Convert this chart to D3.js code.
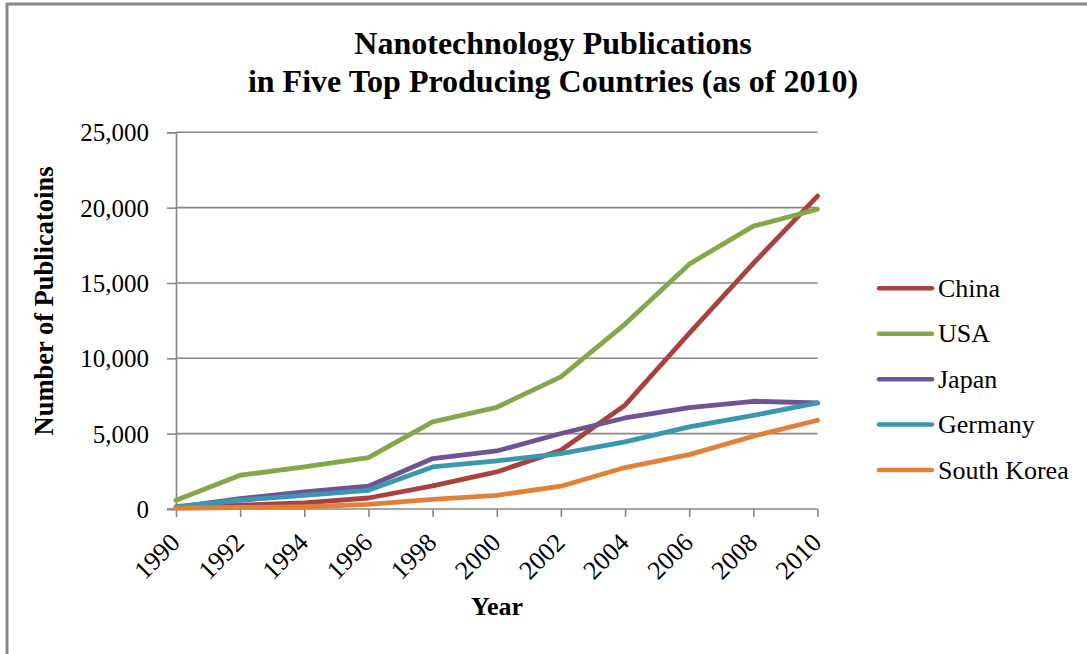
<!DOCTYPE html>
<html>
<head>
<meta charset="utf-8">
<script src="https://cdn.jsdelivr.net/npm/d3@7"></script>
<style>
  html, body { margin: 0; padding: 0; background: #fff; }
  svg { display: block; }
  text { font-family: "Liberation Serif", "Times New Roman", serif; fill: #000; }
</style>
</head>
<body>
<svg id="chart" width="1087" height="654"></svg>
<script>
// Publications per year, every second year from 1990 to 2010
const years = [1990, 1992, 1994, 1996, 1998, 2000, 2002, 2004, 2006, 2008, 2010];
const china   = [100, 250, 400, 730, 1530, 2460, 3900, 6890, 11650, 16300, 20770];
const usa     = [580, 2240, 2790, 3410, 5780, 6750, 8770, 12270, 16250, 18770, 19890];
const japan   = [100, 690, 1130, 1510, 3350, 3850, 5010, 6040, 6730, 7150, 7040];
const germany = [150, 580, 910, 1240, 2790, 3190, 3680, 4450, 5450, 6210, 7040];
const korea   = [50, 100, 150, 310, 640, 910, 1510, 2750, 3610, 4830, 5890];

const seriesNames = ["China", "USA", "Japan", "Germany", "South Korea"];
const seriesValues = [china, usa, japan, germany, korea];
const seriesColors = ["#A8423F", "#86A64A", "#6E5493", "#3B97B0", "#E0813A"];

const yTicks = [0, 5000, 10000, 15000, 20000, 25000];

const titleLines = ["Nanotechnology Publications", "in Five Top Producing Countries (as of 2010)"];
const xTitle = "Year";
const yTitle = "Number of Publicatoins";

const svg = d3.select("#chart");

// outer frame (top and left edges)
svg.append("line").attr("x1", 6).attr("x2", 1087).attr("y1", 4).attr("y2", 4)
  .attr("stroke", "#898989").attr("stroke-width", 3);
svg.append("line").attr("x1", 7).attr("x2", 7).attr("y1", 3).attr("y2", 654)
  .attr("stroke", "#898989").attr("stroke-width", 3);

const x = d3.scaleLinear().domain([1990, 2010]).range([176, 817.5]);
const y = d3.scaleLinear().domain([0, 25000]).range([509, 132.3]);

// horizontal gridlines
svg.append("g")
  .selectAll("line")
  .data(yTicks.filter(d => d > 0))
  .join("line")
  .attr("x1", x(1990)).attr("x2", x(2010))
  .attr("y1", d => y(d)).attr("y2", d => y(d))
  .attr("stroke", "#878787").attr("stroke-width", 1.6);

// y axis
const yAxis = svg.append("g")
  .attr("transform", `translate(${x(1990)},0)`)
  .call(d3.axisLeft(y).tickValues(yTicks).tickSize(9).tickPadding(18)
    .tickFormat(d3.format(",")));
yAxis.select(".domain").attr("stroke", "#878787").attr("stroke-width", 1.6);
yAxis.selectAll(".tick line").attr("stroke", "#878787").attr("stroke-width", 1.6);
yAxis.selectAll(".tick text")
  .style("font-family", "Liberation Serif")
  .style("font-size", "25px")
  .attr("dy", "0.34em");

// x axis
const xAxis = svg.append("g")
  .attr("transform", `translate(0,${y(0)})`)
  .call(d3.axisBottom(x).tickValues(years).tickSize(8).tickFormat(d3.format("d")));
xAxis.select(".domain").attr("stroke", "#878787").attr("stroke-width", 1.6)
  .attr("d", `M${x(1990) - 9},0H${x(2010)}`);
xAxis.selectAll(".tick line").attr("stroke", "#878787").attr("stroke-width", 1.6);
xAxis.selectAll(".tick text")
  .style("font-family", "Liberation Serif")
  .style("font-size", "26px")
  .attr("text-anchor", "end")
  .attr("y", 0).attr("dy", 0)
  .attr("transform", "translate(5,35) rotate(-45)");

// series lines
const line = d3.line().x((d, i) => x(years[i])).y(d => y(d));
svg.append("g")
  .selectAll("path")
  .data(seriesValues)
  .join("path")
  .attr("d", d => line(d))
  .attr("fill", "none")
  .attr("stroke", (d, i) => seriesColors[i])
  .attr("stroke-width", 4.8)
  .attr("stroke-linejoin", "round")
  .attr("stroke-linecap", "round");

// legend
const legend = svg.append("g");
const ly = d3.scaleLinear().domain([0, 4]).range([288.3, 470]);
const items = legend.selectAll("g").data(seriesNames).join("g")
  .attr("transform", (d, i) => `translate(0,${ly(i)})`);
items.append("line")
  .attr("x1", 879).attr("x2", 932).attr("y1", 0).attr("y2", 0)
  .attr("stroke", (d, i) => seriesColors[i])
  .attr("stroke-width", 4.5).attr("stroke-linecap", "round");
items.append("text")
  .attr("x", 938).attr("y", 8.5)
  .style("font-size", "26px")
  .text(d => d);

// titles
svg.append("g").selectAll("text").data(titleLines).join("text")
  .attr("x", 553).attr("y", (d, i) => 54 + i * 38)
  .attr("text-anchor", "middle")
  .style("font-size", "32px").style("font-weight", "bold")
  .text(d => d);

svg.append("text")
  .attr("x", 497).attr("y", 615)
  .attr("text-anchor", "middle")
  .style("font-size", "26px").style("font-weight", "bold")
  .text(xTitle);

svg.append("text")
  .attr("transform", "translate(53,301) rotate(-90)")
  .attr("text-anchor", "middle")
  .style("font-size", "26.5px").style("font-weight", "bold")
  .text(yTitle);
</script>
</body>
</html>
